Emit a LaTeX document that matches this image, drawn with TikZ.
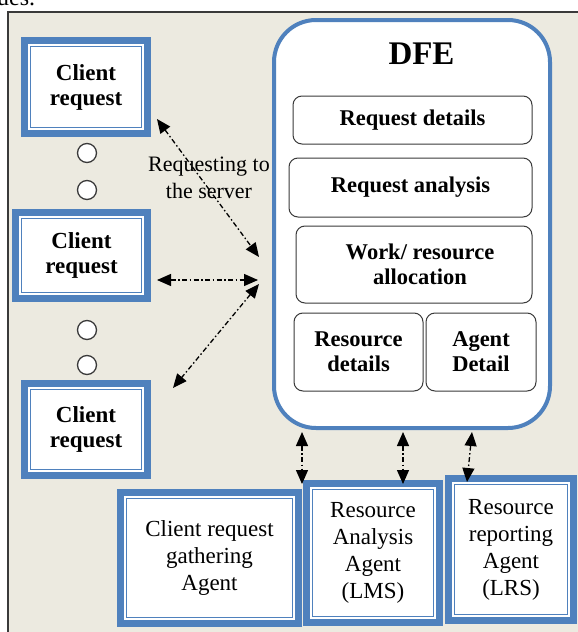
\documentclass[tikz,border=0pt]{standalone}
\usepackage{fontspec}
\setmainfont{Liberation Serif}
\usetikzlibrary{arrows.meta}
\definecolor{bblue}{HTML}{4F81BD}
\definecolor{beige}{HTML}{ECEAE0}
\definecolor{frameg}{HTML}{3A3A3A}
\begin{document}
\begin{tikzpicture}[x=1pt,y=-1pt,
  dbox/.style={draw=bblue, line width=1.5pt, fill=white,
    preaction={draw=bblue, line width=19pt},
    preaction={draw=white, line width=5.5pt},
    inner sep=0pt, align=center},
  crtext/.style={font=\bfseries\fontsize{23}{25}\selectfont},
  agtext/.style={font=\fontsize{23}{27}\selectfont},
  inbox/.style={draw=frameg, line width=1pt, rounded corners=9pt, fill=white,
    inner sep=0pt, align=center, font=\bfseries\fontsize{22.5}{25}\selectfont},
  dot/.style={circle, draw=frameg, line width=1.3pt, fill=white, minimum size=19pt, inner sep=0pt},
  darr/.style={{Triangle[length=14pt,width=12pt]}-{Triangle[length=14pt,width=12pt]},
    line width=1.3pt, dash pattern=on 5pt off 2.5pt on 1.5pt off 2.5pt}
]
\useasboundingbox (0,0) rectangle (578,632);
% outer frame
\draw[fill=beige, draw=frameg, line width=2pt] (8,12) rectangle (600,660);
\node[anchor=base west, inner sep=0pt, font=\fontsize{24}{26}\selectfont] (top) at (-3,5) {ues.};

% client requests
\node[dbox, crtext, minimum width=111pt, minimum height=81pt] (cr1) at (86,87) {Client\\request};
\node[dbox, crtext, minimum width=120pt, minimum height=74pt] (cr2) at (81.5,255.5) {Client\\request};
\node[dbox, crtext, minimum width=111pt, minimum height=80pt] (cr3) at (86,429.5) {Client\\request};

\node[dot] (d1) at (87,153) {};
\node[dot] (d2) at (87,190) {};
\node[dot] (d3) at (87,330) {};
\node[dot] (d4) at (87,365) {};

% agents
\node[dbox, agtext, minimum width=166pt, minimum height=119pt] (ga) at (209.5,558) {Client request\\gathering\\Agent};
\node[dbox, agtext, minimum width=121pt, minimum height=127pt] (ra) at (373,553) {Resource\\Analysis\\Agent\\(LMS)};
\node[dbox, agtext, minimum width=113pt, minimum height=130pt] (rr) at (511,549.5) {Resource\\reporting\\Agent\\(LRS)};

% DFE
\node[draw=bblue, line width=4pt, fill=white, rounded corners=42pt,
  minimum width=276pt, minimum height=408pt] (dfe) at (412,224) {};
\node[font=\bfseries\fontsize{33}{36}\selectfont, inner sep=0pt] (dfet) at (421.5,54) {DFE};
\node[inbox, minimum width=239pt, minimum height=48pt] (rd) at (412.5,120) {Request details};
\node[inbox, minimum width=243pt, minimum height=59pt] (ran) at (410.5,187.5) {Request analysis};
\node[inbox, minimum width=236pt, minimum height=77pt] (wra) at (414,264.5) {\hspace*{12pt}Work/ resource\\\hspace*{12pt}allocation};
\node[inbox, minimum width=129pt, minimum height=78pt] (resd) at (358.5,352) {Resource\\details};
\node[inbox, minimum width=110pt, minimum height=78pt] (agd) at (481,352) {Agent\\Detail};

% label
\node[font=\fontsize{22}{27}\selectfont, align=center, inner sep=0pt] (lbl) at (209,178) {Requesting to\\the server};

% arrows
\coordinate (a1s) at (157,119); \coordinate (a1e) at (259,257);
\coordinate (a2s) at (157,280); \coordinate (a2e) at (258,280);
\coordinate (a3s) at (259,284); \coordinate (a3e) at (173,388);
\coordinate (v1s) at (302,432); \coordinate (v1e) at (302,484);
\coordinate (v2s) at (403,432); \coordinate (v2e) at (403,484);
\coordinate (v3s) at (472,432); \coordinate (v3e) at (467,482);
\draw[darr] (a1s) -- (a1e);
\draw[darr] (a2s) -- (a2e);
\draw[darr] (a3s) -- (a3e);
\draw[darr] (v1s) -- (v1e);
\draw[darr] (v2s) -- (v2e);
\draw[darr] (v3s) -- (v3e);
\end{tikzpicture}
\end{document}
